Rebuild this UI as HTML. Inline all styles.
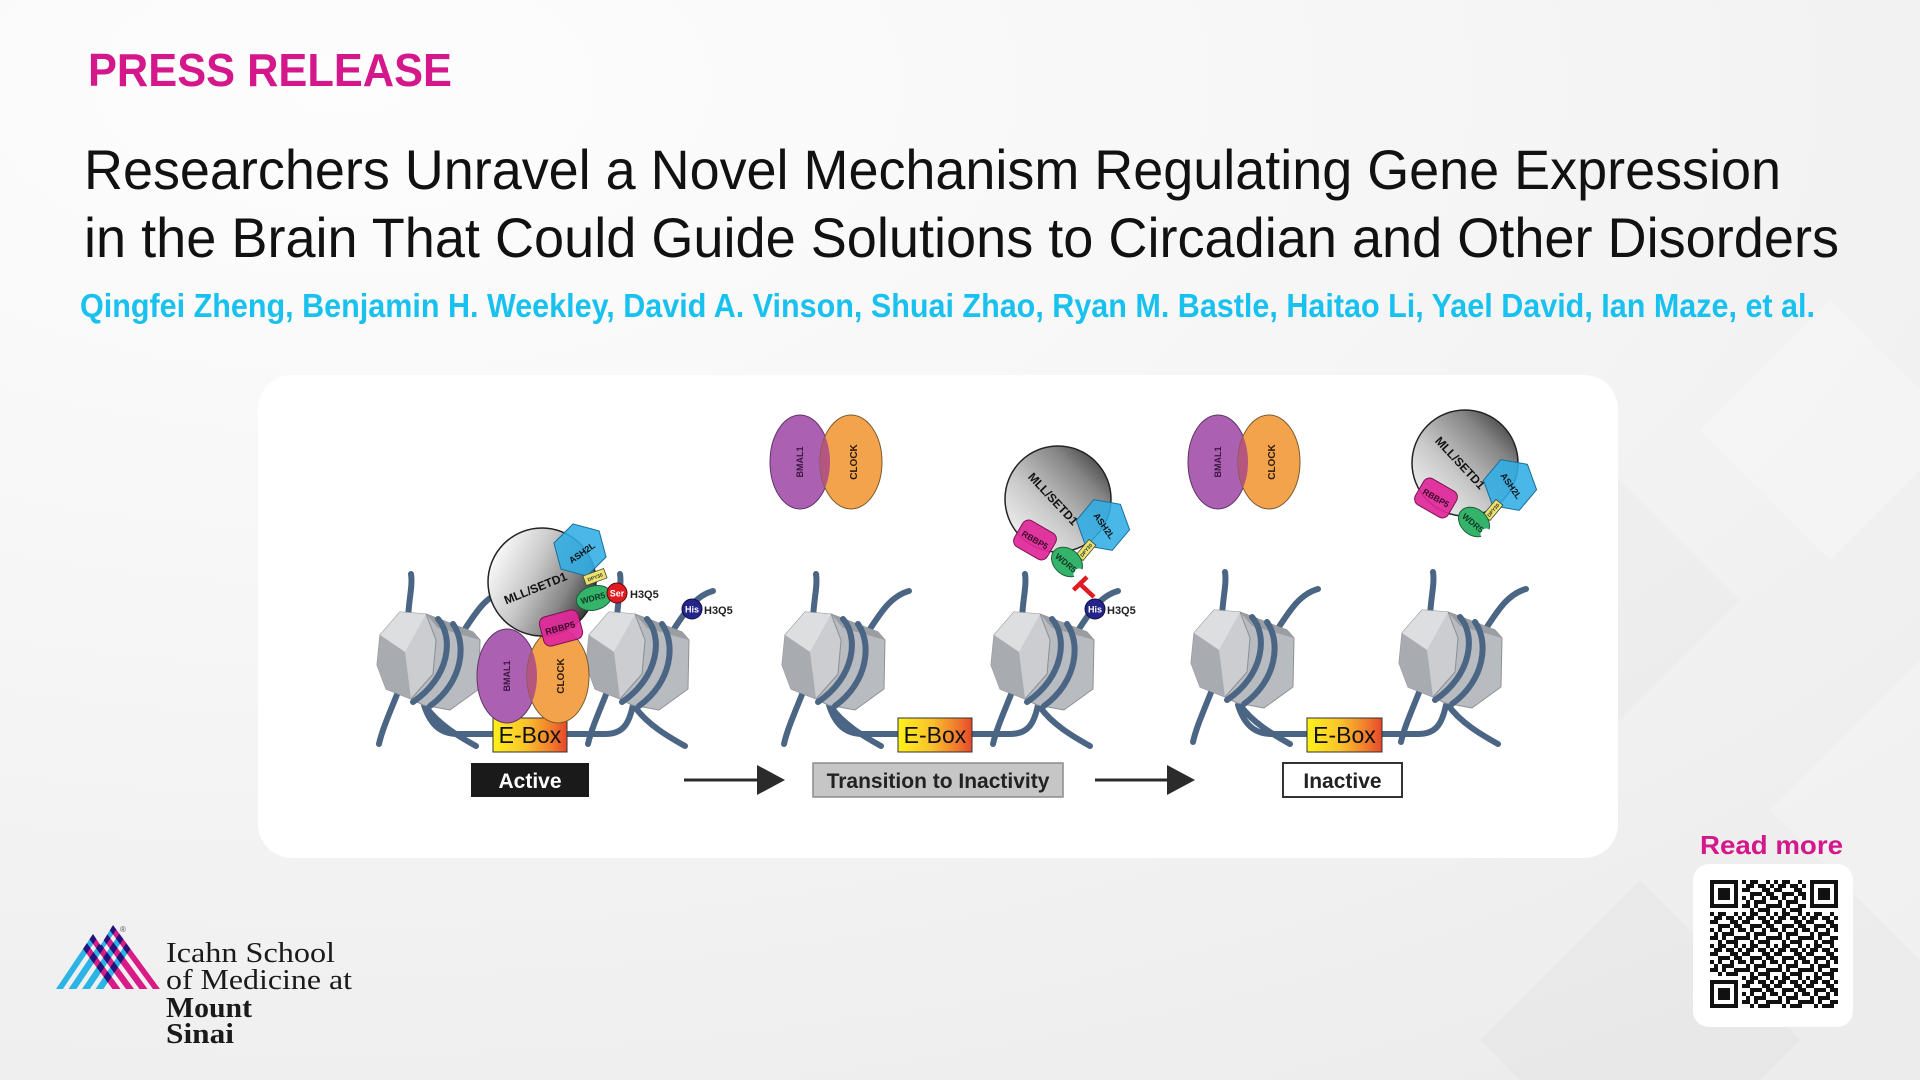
<!DOCTYPE html>
<html>
<head>
<meta charset="utf-8">
<style>
  html,body{margin:0;padding:0;width:1920px;height:1080px;overflow:hidden;}
  body{background:radial-gradient(ellipse 120% 110% at 18% 8%, #fdfdfd 0%, #f7f7f7 40%, #ececec 100%);}
  svg{display:block;overflow:hidden;}
  .sans{font-family:"Liberation Sans", Arial, sans-serif;}
  .serif{font-family:"Liberation Serif", "Times New Roman", serif;}
</style>
</head>
<body>
<svg width="1920" height="1080" viewBox="0 0 1920 1080" xmlns="http://www.w3.org/2000/svg">
  <defs>
    <linearGradient id="ebox" x1="0" y1="0" x2="1" y2="0">
      <stop offset="0" stop-color="#fff21a"/>
      <stop offset="0.45" stop-color="#f9c22c"/>
      <stop offset="0.8" stop-color="#f07a2c"/>
      <stop offset="1" stop-color="#e6482a"/>
    </linearGradient>
    <linearGradient id="mll1" x1="0" y1="0.25" x2="1" y2="0.75">
      <stop offset="0" stop-color="#ffffff"/>
      <stop offset="0.4" stop-color="#c9c9c9"/>
      <stop offset="0.72" stop-color="#858585"/>
      <stop offset="1" stop-color="#232323"/>
    </linearGradient>
    <linearGradient id="mll2" x1="0" y1="1" x2="1" y2="0">
      <stop offset="0" stop-color="#ffffff"/>
      <stop offset="0.4" stop-color="#c9c9c9"/>
      <stop offset="0.72" stop-color="#858585"/>
      <stop offset="1" stop-color="#232323"/>
    </linearGradient>
    <polygon id="hex" points="27,0 13.5,23.4 -13.5,23.4 -27,0 -13.5,-23.4 13.5,-23.4"/>
    <g id="nuc">
      <g fill="none" stroke="#4b6584" stroke-width="6" stroke-linecap="round">
        <path d="M-20 -40 C-20 -60 -15 -75 -17 -88"/>
        <path d="M35 -30 C48 -50 58 -66 76 -71"/>
        <path d="M-30 30 C-38 50 -46 68 -49 82"/>
        <path d="M-2 45 C10 62 30 74 48 84"/>
      </g>
      <polygon points="-2,-48 45,-30 52,-22 51,27 22,48 -5,43 -17,37 5,12 8,-22" fill="#b8bbbf" stroke="#8e9297" stroke-width="1" stroke-linejoin="round"/>
      <polygon points="-2,-48 45,-30 52,-22 10,-34" fill="#9a9ea3"/>
      <polygon points="-28,-50 -2,-48 8,-22 5,12 -17,37 -42,27 -51,3 -48,-27" fill="#cbcdd0" stroke="#8e9297" stroke-width="1" stroke-linejoin="round"/>
      <polygon points="-28,-50 -2,-48 -23,-10 -48,-27" fill="#dcdee0"/>
      <polygon points="-48,-27 -23,-10 -17,37 -42,27 -51,3" fill="#a8abaf"/>
      <g fill="none" stroke="#4b6584" stroke-width="6" stroke-linecap="round">
        <path d="M10 -43 C26 -25 22 15 -15 40"/>
        <path d="M25 -38 C39 -18 35 20 2 44"/>
      </g>
    </g>
    <g id="bcshape">
      <ellipse cx="-25" cy="0" rx="30" ry="47" fill="#ab60b2" stroke="#5e3563" stroke-width="1"/>
      <ellipse cx="26" cy="0" rx="31" ry="47" fill="#f2a34b" stroke="#7a5a30" stroke-width="1"/>
      <clipPath id="bcclip"><ellipse cx="-25" cy="0" rx="30" ry="47"/></clipPath>
      <ellipse cx="26" cy="0" rx="31" ry="47" fill="#b4567f" clip-path="url(#bcclip)"/>
    </g>
    <pattern id="qrp" x="1710" y="880" width="32" height="32" patternUnits="userSpaceOnUse">
      <path fill="#111" d="M0 0h4v4h-4z M8 0h8v4h-8z M24 0h4v4h-4z M4 4h8v4h-8z M16 4h8v4h-8z M28 4h4v4h-4z M0 8h8v4h-8z M20 8h8v4h-8z M8 12h12v4h-12z M24 12h8v4h-8z M0 16h4v4h-4z M8 16h4v4h-4z M20 16h4v4h-4z M28 16h4v4h-4z M4 20h4v4h-4z M12 20h12v4h-12z M0 24h8v4h-8z M12 24h4v4h-4z M24 24h8v4h-8z M8 28h4v4h-4z M16 28h12v4h-12z"/>
    </pattern>
    <clipPath id="logoclip">
      <polygon points="56,989 93,934 130,989"/>
      <polygon points="74,989 113,925 160,989"/>
    </clipPath>
  </defs>

  <!-- background diamonds (kept inside frame) -->
  <g>
    <polygon points="1830,300 1920,390 1920,470 1830,560 1700,430" fill="#ffffff" opacity="0.25"/>
    <polygon points="1620,480 1740,600 1620,720 1500,600" fill="#000000" opacity="0.015"/>
    <polygon points="1920,660 1920,960 1770,810" fill="#ffffff" opacity="0.22"/>
    <polygon points="1640,880 1800,1040 1760,1080 1520,1080 1480,1040" fill="#000000" opacity="0.015"/>
  </g>

  <!-- header text -->
  <text class="sans" x="88" y="86" font-size="46" font-weight="bold" fill="#d4178a" textLength="364" lengthAdjust="spacingAndGlyphs">PRESS RELEASE</text>
  <text class="sans" x="84" y="189" font-size="56" fill="#111" textLength="1697" lengthAdjust="spacingAndGlyphs">Researchers Unravel a Novel Mechanism Regulating Gene Expression</text>
  <text class="sans" x="84" y="257" font-size="56" fill="#111" textLength="1755" lengthAdjust="spacingAndGlyphs">in the Brain That Could Guide Solutions to Circadian and Other Disorders</text>
  <text class="sans" x="80" y="317" font-size="33" font-weight="bold" fill="#19c1ef" textLength="1735" lengthAdjust="spacingAndGlyphs">Qingfei Zheng, Benjamin H. Weekley, David A. Vinson, Shuai Zhao, Ryan M. Bastle, Haitao Li, Yael David, Ian Maze, et al.</text>

  <!-- diagram card -->
  <rect x="258" y="375" width="1360" height="483" rx="34" fill="#ffffff"/>

  <!-- linker DNA -->
  <g fill="none" stroke="#4b6584" stroke-width="6" stroke-linecap="round">
    <path d="M424 705 C430 724 440 734 458 734 L605 734 C623 734 629 724 633 705"/>
    <path d="M829 705 C835 724 845 734 863 734 L1010 734 C1028 734 1034 724 1038 705"/>
    <path d="M1238 705 C1244 724 1254 734 1272 734 L1418 734 C1436 734 1442 724 1446 705"/>
  </g>

  <!-- nucleosomes -->
  <use href="#nuc" x="428" y="662"/>
  <use href="#nuc" x="637" y="662"/>
  <use href="#nuc" x="833" y="662"/>
  <use href="#nuc" x="1042" y="662"/>
  <use href="#nuc" x="1242" y="660"/>
  <use href="#nuc" x="1450" y="660"/>

  <!-- E-Boxes -->
  <g class="sans" font-size="23" fill="#111" text-anchor="middle">
    <rect x="493" y="718" width="74" height="34" fill="url(#ebox)" stroke="#333" stroke-width="1"/>
    <text x="530" y="743">E-Box</text>
    <rect x="898" y="718" width="74" height="34" fill="url(#ebox)" stroke="#333" stroke-width="1"/>
    <text x="935" y="743">E-Box</text>
    <rect x="1307" y="718" width="75" height="34" fill="url(#ebox)" stroke="#333" stroke-width="1"/>
    <text x="1344.5" y="743">E-Box</text>
  </g>

  <!-- BMAL1 / CLOCK pairs -->
  <use href="#bcshape" x="532" y="676"/>
  <use href="#bcshape" x="825" y="462"/>
  <use href="#bcshape" x="1243" y="462"/>
  <g class="sans" font-weight="bold" text-anchor="middle">
    <text transform="translate(507,676) rotate(-90)" dy="3" font-size="9" fill="#3b1840">BMAL1</text>
    <text transform="translate(560,676) rotate(-90)" dy="4" font-size="10" fill="#2a1a0a">CLOCK</text>
    <text transform="translate(800,462) rotate(-90)" dy="3" font-size="9" fill="#3b1840">BMAL1</text>
    <text transform="translate(853,462) rotate(-90)" dy="4" font-size="10" fill="#2a1a0a">CLOCK</text>
    <text transform="translate(1218,462) rotate(-90)" dy="3" font-size="9" fill="#3b1840">BMAL1</text>
    <text transform="translate(1271,462) rotate(-90)" dy="4" font-size="10" fill="#2a1a0a">CLOCK</text>
  </g>

  <!-- Panel 1 complex -->
  <g class="sans" font-weight="bold" text-anchor="middle">
    <circle cx="542" cy="582" r="54" fill="url(#mll1)" stroke="#222" stroke-width="1.5"/>
    <text transform="translate(537,592) rotate(-22)" font-size="12" fill="#111">MLL/SETD1</text>
    <use href="#hex" transform="translate(580,550) rotate(15)" fill="#30aee6" fill-opacity="0.88" stroke="#1b6d96" stroke-width="1"/>
    <text transform="translate(582,553) rotate(-35)" dy="3" font-size="9" fill="#111">ASH2L</text>
    <rect x="-11" y="-5" width="22" height="10" transform="translate(595,577) rotate(-20)" fill="#ece36a" stroke="#444" stroke-width="0.8"/>
    <text transform="translate(595,577) rotate(-20)" dy="2" font-size="5" fill="#333">DPY30</text>
    <ellipse cx="0" cy="0" rx="18" ry="12" transform="translate(594,598) rotate(-15)" fill="#34b36a" stroke="#1c5e38" stroke-width="1"/>
    <text transform="translate(593,598) rotate(-15)" dy="3" font-size="8.5" fill="#0f3a22">WDR5</text>
    <circle cx="617" cy="593" r="10" fill="#e11b22" stroke="#5a0a0a" stroke-width="1"/>
    <text x="617" y="596.5" font-size="9" fill="#fff">Ser</text>
    <text x="630" y="598" font-size="11" fill="#222" text-anchor="start">H3Q5</text>
    <rect x="-20" y="-15" width="40" height="30" rx="7" transform="translate(561,628) rotate(-15)" fill="#e0289a" fill-opacity="0.93" stroke="#7a1450" stroke-width="1"/>
    <text transform="translate(561,631) rotate(-15)" font-size="9" fill="#3a0a24">RBBP5</text>
    <circle cx="692" cy="609" r="10" fill="#24248a" stroke="#0e0e40" stroke-width="1"/>
    <text x="692" y="612.5" font-size="9" fill="#fff">His</text>
    <text x="704" y="614" font-size="11" fill="#222" text-anchor="start">H3Q5</text>
  </g>

  <!-- Panel 2 complex -->
  <g class="sans" font-weight="bold" text-anchor="middle" transform="translate(1058,499)">
    <circle cx="0" cy="0" r="53" fill="url(#mll2)" stroke="#222" stroke-width="1.5"/>
    <text transform="translate(-5,0) rotate(47)" dy="4" font-size="12" fill="#111">MLL/SETD1</text>
    <use href="#hex" transform="translate(45,26) rotate(10)" fill="#30aee6" fill-opacity="0.88" stroke="#1b6d96" stroke-width="1"/>
    <text transform="translate(46,27) rotate(55)" dy="3" font-size="9" fill="#111">ASH2L</text>
    <rect x="-10" y="-4.5" width="20" height="9" transform="translate(28,51) rotate(-50)" fill="#ece36a" stroke="#444" stroke-width="0.8"/>
    <text transform="translate(28,51) rotate(-50)" dy="2" font-size="5" fill="#333">DPY30</text>
    <ellipse cx="0" cy="0" rx="17" ry="13" transform="translate(9,63) rotate(40)" fill="#34b36a" stroke="#1c5e38" stroke-width="1"/>
    <circle cx="21" cy="75" r="5.5" fill="#fff"/>
    <text transform="translate(8,64) rotate(40)" dy="3" font-size="8.5" fill="#0f3a22">WDR5</text>
    <rect x="-19" y="-15" width="38" height="30" rx="7" transform="translate(-23,41) rotate(30)" fill="#e0289a" fill-opacity="0.93" stroke="#7a1450" stroke-width="1"/>
    <text transform="translate(-23,41) rotate(30)" dy="3" font-size="8.5" fill="#3a0a24">RBBP5</text>
  </g>
  <!-- inhibition T + His panel 2 -->
  <g stroke="#e11b22" stroke-width="4.5" stroke-linecap="butt">
    <line x1="1094" y1="597" x2="1080" y2="584"/>
    <line x1="1073.5" y1="590" x2="1087" y2="577"/>
  </g>
  <g class="sans" font-weight="bold" text-anchor="middle">
    <circle cx="1095" cy="609" r="10" fill="#24248a" stroke="#0e0e40" stroke-width="1"/>
    <text x="1095" y="612.5" font-size="9" fill="#fff">His</text>
    <text x="1107" y="614" font-size="11" fill="#222" text-anchor="start">H3Q5</text>
  </g>

  <!-- Panel 3 complex -->
  <g class="sans" font-weight="bold" text-anchor="middle" transform="translate(1465,463)">
    <circle cx="0" cy="0" r="53" fill="url(#mll2)" stroke="#222" stroke-width="1.5"/>
    <text transform="translate(-5,0) rotate(47)" dy="4" font-size="12" fill="#111">MLL/SETD1</text>
    <use href="#hex" transform="translate(45,22) rotate(10)" fill="#30aee6" fill-opacity="0.88" stroke="#1b6d96" stroke-width="1"/>
    <text transform="translate(46,23) rotate(55)" dy="3" font-size="9" fill="#111">ASH2L</text>
    <rect x="-10" y="-4.5" width="20" height="9" transform="translate(28,47) rotate(-50)" fill="#ece36a" stroke="#444" stroke-width="0.8"/>
    <text transform="translate(28,47) rotate(-50)" dy="2" font-size="5" fill="#333">DPY30</text>
    <ellipse cx="0" cy="0" rx="17" ry="13" transform="translate(9,59) rotate(40)" fill="#34b36a" stroke="#1c5e38" stroke-width="1"/>
    <circle cx="21" cy="71" r="5.5" fill="#fff"/>
    <text transform="translate(8,60) rotate(40)" dy="3" font-size="8.5" fill="#0f3a22">WDR5</text>
    <rect x="-19" y="-15" width="38" height="30" rx="7" transform="translate(-29,35) rotate(30)" fill="#e0289a" fill-opacity="0.93" stroke="#7a1450" stroke-width="1"/>
    <text transform="translate(-29,35) rotate(30)" dy="3" font-size="8.5" fill="#3a0a24">RBBP5</text>
  </g>

  <!-- state labels -->
  <g class="sans" font-weight="bold" font-size="21" text-anchor="middle">
    <rect x="471" y="763" width="118" height="34" fill="#1a1a1a"/>
    <text x="530" y="788" fill="#ffffff">Active</text>
    <rect x="813" y="763" width="250" height="34" fill="#c6c6c6" stroke="#8c8c8c" stroke-width="1.5"/>
    <text x="938" y="788" fill="#222">Transition to Inactivity</text>
    <rect x="1283" y="763" width="119" height="34" fill="#ffffff" stroke="#333" stroke-width="2"/>
    <text x="1342.5" y="788" fill="#222">Inactive</text>
  </g>

  <!-- arrows -->
  <g fill="#2b2b2b" stroke="#2b2b2b">
    <line x1="684" y1="780" x2="760" y2="780" stroke-width="3"/>
    <polygon points="757,765 785,780 757,795" stroke="none"/>
    <line x1="1095" y1="780" x2="1170" y2="780" stroke-width="3"/>
    <polygon points="1167,765 1195,780 1167,795" stroke="none"/>
  </g>

  <!-- logo -->
  <g clip-path="url(#logoclip)">
    <g stroke="#2cb4e6" stroke-width="6.5">
      <line x1="45.5" y1="1009" x2="126.3" y2="889"/>
      <line x1="59" y1="1009" x2="139.8" y2="889"/>
      <line x1="72.5" y1="1009" x2="153.3" y2="889"/>
      <line x1="86" y1="1009" x2="166.8" y2="889"/>
    </g>
    <g stroke="#d81b87" stroke-width="6.5" style="mix-blend-mode:multiply">
      <line x1="171.7" y1="1009" x2="83.6" y2="889"/>
      <line x1="158.2" y1="1009" x2="70.1" y2="889"/>
      <line x1="144.7" y1="1009" x2="56.6" y2="889"/>
      <line x1="131.2" y1="1009" x2="43.1" y2="889"/>
    </g>
  </g>
  <text class="sans" x="120" y="932" font-size="8" fill="#555">®</text>
  <g class="serif" fill="#1a1a1a" font-size="29">
    <text x="166" y="962" textLength="169" lengthAdjust="spacingAndGlyphs">Icahn School</text>
    <text x="166" y="989" textLength="186" lengthAdjust="spacingAndGlyphs">of Medicine at</text>
    <text x="166" y="1017" font-weight="bold" textLength="86" lengthAdjust="spacingAndGlyphs">Mount</text>
    <text x="166" y="1043" font-weight="bold" textLength="68" lengthAdjust="spacingAndGlyphs">Sinai</text>
  </g>

  <!-- Read more + QR -->
  <text class="sans" x="1700" y="854" font-size="26" font-weight="bold" fill="#d4178a" textLength="143" lengthAdjust="spacingAndGlyphs">Read more</text>
  <rect x="1693" y="864" width="160" height="163" rx="16" fill="#ffffff"/>
  <rect x="1710" y="880" width="128" height="128" fill="url(#qrp)"/>
  <g>
    <rect x="1710" y="880" width="32" height="32" fill="#fff"/>
    <rect x="1710" y="880" width="28" height="28" fill="#111"/>
    <rect x="1714" y="884" width="20" height="20" fill="#fff"/>
    <rect x="1718" y="888" width="12" height="12" fill="#111"/>
    <rect x="1806" y="880" width="32" height="32" fill="#fff"/>
    <rect x="1810" y="880" width="28" height="28" fill="#111"/>
    <rect x="1814" y="884" width="20" height="20" fill="#fff"/>
    <rect x="1818" y="888" width="12" height="12" fill="#111"/>
    <rect x="1710" y="976" width="32" height="32" fill="#fff"/>
    <rect x="1710" y="980" width="28" height="28" fill="#111"/>
    <rect x="1714" y="984" width="20" height="20" fill="#fff"/>
    <rect x="1718" y="988" width="12" height="12" fill="#111"/>
  </g>
</svg>
</body>
</html>
